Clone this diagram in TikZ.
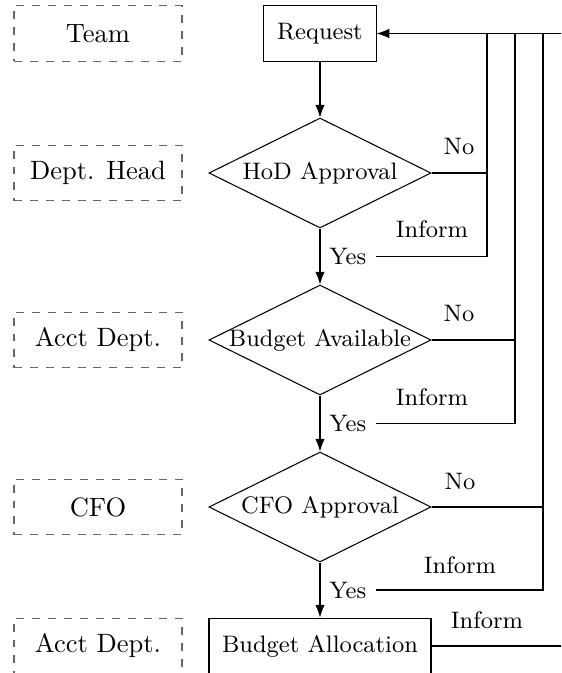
\documentclass[tikz,border=0pt]{standalone}
\usetikzlibrary{shapes.geometric,arrows.meta}
\begin{document}
\begin{tikzpicture}[x=0.3774pt,y=-0.3774pt,
  lane/.style={draw=black!60,dashed,minimum width=63.4pt,minimum height=21.1pt,inner sep=0pt},
  procbox/.style={draw,font=\small,minimum height=21.1pt,inner sep=0pt},
  decision/.style={draw,diamond,font=\small,minimum width=83.8pt,minimum height=41.5pt,inner sep=0pt},
  lbl/.style={font=\small},
  flow/.style={-{Latex}},
  conn/.style={}]
\useasboundingbox (0,0) rectangle (561,673);
\clip (0,0) rectangle (561,673);
% lanes
\node[lane] (l1) at (98,33.5) {Team};
\node[lane] (l2) at (98,173) {Dept. Head};
\node[lane] (l3) at (98,340) {Acct Dept.};
\node[lane] (l4) at (98,507) {CFO};
\node[lane] (l5) at (98,646) {Acct Dept.};
% flow nodes
\node[procbox,minimum width=42.3pt] (request) at (320,33.5) {Request};
\node[decision] (hod) at (320,173) {\makebox[0pt]{HoD Approval}};
\node[decision] (bud) at (320,340) {\makebox[0pt]{Budget Available}};
\node[decision] (cfo) at (320,507) {\makebox[0pt]{CFO Approval}};
\node[procbox,minimum width=83.8pt] (alloc) at (320,646) {Budget Allocation};
% columns
\coordinate (c1) at (487,0);
\coordinate (c2) at (515,0);
\coordinate (c3) at (543,0);
\coordinate (c4) at (575,0);
% main flow
\draw[flow] (request) -- (hod);
\draw[flow] (hod) -- node[lbl,right] (yes1) {Yes} (bud);
\draw[flow] (bud) -- node[lbl,right] (yes2) {Yes} (cfo);
\draw[flow] (cfo) -- node[lbl,right] (yes3) {Yes} (alloc);
% feedback
\draw[conn] (hod.east) -- (hod.east -| c1);
\draw[conn] (yes1.east) -| (c1 |- request.east);
\draw[conn] (bud.east) -- (bud.east -| c2);
\draw[conn] (yes2.east) -| (c2 |- request.east);
\draw[conn] (cfo.east) -- (cfo.east -| c3);
\draw[conn] (yes3.east) -| (c3 |- request.east);
\draw[conn] (alloc.east) -| (c4 |- request.east);
\draw[flow] (c4 |- request.east) -- (request.east);
% labels
\node[lbl] (no1) at (459,146) {No};
\node[lbl] (no2) at (459,313) {No};
\node[lbl] (no3) at (460,481) {No};
\node[lbl] (inf1) at (432,229) {Inform};
\node[lbl] (inf2) at (432,397) {Inform};
\node[lbl] (inf3) at (460,565) {Inform};
\node[lbl] (inf4) at (487,620) {Inform};
\end{tikzpicture}
\end{document}
